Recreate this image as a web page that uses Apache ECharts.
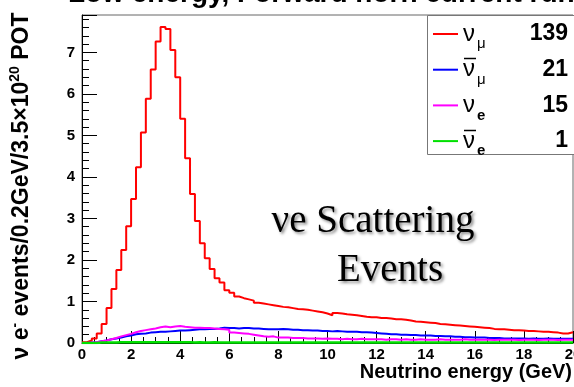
<!DOCTYPE html>
<html>
<head>
<meta charset="utf-8">
<script src="https://cdn.jsdelivr.net/npm/echarts@6/dist/echarts.min.js"></script>
<style>
  html, body { margin: 0; padding: 0; background: #fff; }
  #main { width: 574px; height: 387px; }
</style>
</head>
<body>
<div id="main"></div>
<script>
// histogram binning (GeV)
var energyMin = 0;
var binWidth = 0.2;
var xTicks = [0, 2, 4, 6, 8, 10, 12, 14, 16, 18, 20];

var seriesNames = ['ν_mu', 'ν_mu_bar', 'ν_e', 'ν_e_bar'];
var seriesCounts = [139, 21, 15, 1];

// events per 0.2 GeV bin
var numuVals = [
    0.02, 0.06, 0.11, 0.23, 0.46, 0.84, 1.30, 1.76, 2.24, 2.81,
    3.47, 4.23, 5.07, 5.88, 6.59, 7.26, 7.61, 7.56, 7.06, 6.40,
    5.40, 4.45, 3.59, 2.94, 2.40, 2.04, 1.78, 1.56, 1.46, 1.27,
    1.21, 1.12, 1.08, 1.05, 1.02, 0.97, 0.95, 0.93, 0.91, 0.89,
    0.87, 0.86, 0.84, 0.82, 0.81, 0.80, 0.78, 0.76, 0.74, 0.71,
    0.67, 0.72, 0.71, 0.69, 0.68, 0.67, 0.65, 0.63, 0.62, 0.62,
    0.60, 0.60, 0.59, 0.57, 0.57, 0.56, 0.54, 0.52, 0.51, 0.50,
    0.49, 0.48, 0.46, 0.45, 0.44, 0.43, 0.42, 0.41, 0.40, 0.39,
    0.38, 0.37, 0.36, 0.34, 0.33, 0.33, 0.32, 0.31, 0.31, 0.30,
    0.29, 0.29, 0.28, 0.27, 0.27, 0.26, 0.25, 0.23, 0.23, 0.26
];
var numubarVals = [
    0.00, 0.01, 0.02, 0.04, 0.06, 0.09, 0.11, 0.13, 0.16, 0.18,
    0.21, 0.22, 0.23, 0.25, 0.26, 0.27, 0.27, 0.28, 0.29, 0.30,
    0.30, 0.31, 0.32, 0.33, 0.33, 0.34, 0.34, 0.35, 0.37, 0.36,
    0.36, 0.35, 0.36, 0.36, 0.35, 0.35, 0.34, 0.33, 0.33, 0.33,
    0.34, 0.33, 0.32, 0.32, 0.31, 0.31, 0.30, 0.30, 0.29, 0.29,
    0.28, 0.29, 0.28, 0.27, 0.27, 0.27, 0.26, 0.26, 0.25, 0.24,
    0.23, 0.22, 0.21, 0.21, 0.20, 0.20, 0.19, 0.19, 0.18, 0.18,
    0.18, 0.17, 0.17, 0.16, 0.16, 0.15, 0.15, 0.14, 0.14, 0.13,
    0.13, 0.13, 0.12, 0.12, 0.12, 0.11, 0.11, 0.11, 0.11, 0.11,
    0.10, 0.11, 0.10, 0.10, 0.11, 0.10, 0.10, 0.10, 0.10, 0.10
];
var nueVals = [
    0.00, 0.01, 0.02, 0.04, 0.06, 0.09, 0.12, 0.16, 0.19, 0.22,
    0.26, 0.29, 0.31, 0.33, 0.35, 0.38, 0.40, 0.38, 0.40, 0.41,
    0.39, 0.38, 0.37, 0.37, 0.36, 0.36, 0.35, 0.34, 0.33, 0.32,
    0.25, 0.24, 0.23, 0.22, 0.20, 0.18, 0.16, 0.15, 0.16, 0.13,
    0.13, 0.13, 0.12, 0.12, 0.12, 0.11, 0.11, 0.11, 0.10, 0.11,
    0.10, 0.10, 0.09, 0.10, 0.09, 0.09, 0.10, 0.09, 0.09, 0.09,
    0.09, 0.08, 0.09, 0.09, 0.08, 0.09, 0.08, 0.08, 0.09, 0.08,
    0.08, 0.08, 0.09, 0.08, 0.08, 0.08, 0.08, 0.09, 0.08, 0.08,
    0.08, 0.08, 0.08, 0.07, 0.08, 0.08, 0.08, 0.08, 0.07, 0.08,
    0.08, 0.08, 0.07, 0.08, 0.08, 0.08, 0.07, 0.08, 0.08, 0.08
];
var nuebarVals = [
    0.00, 0.00, 0.00, 0.01, 0.01, 0.01, 0.01, 0.02, 0.02, 0.02,
    0.02, 0.02, 0.02, 0.02, 0.02, 0.02, 0.02, 0.02, 0.02, 0.02,
    0.02, 0.02, 0.01, 0.02, 0.01, 0.01, 0.02, 0.01, 0.01, 0.01,
    0.01, 0.01, 0.01, 0.01, 0.01, 0.01, 0.01, 0.01, 0.01, 0.01,
    0.01, 0.01, 0.01, 0.01, 0.01, 0.01, 0.01, 0.01, 0.01, 0.01,
    0.01, 0.01, 0.01, 0.01, 0.01, 0.01, 0.01, 0.01, 0.01, 0.01,
    0.01, 0.01, 0.01, 0.01, 0.01, 0.01, 0.01, 0.01, 0.01, 0.01,
    0.01, 0.01, 0.01, 0.01, 0.01, 0.01, 0.01, 0.01, 0.01, 0.01,
    0.01, 0.01, 0.01, 0.01, 0.01, 0.01, 0.01, 0.01, 0.01, 0.01,
    0.01, 0.01, 0.01, 0.01, 0.01, 0.01, 0.01, 0.01, 0.01, 0.01
];

var colors = ['#ff0000', '#0000ff', '#ff00ff', '#00e000'];
var font = '"Liberation Sans", Arial, Helvetica, sans-serif';
var serif = '"Liberation Serif", "Times New Roman", serif';

// left bin edges + closing point, drawn as steps
function histData(vals) {
    var d = vals.map(function(v, i) {
        return [energyMin + i * binWidth, v];
    });
    d.push([energyMin + vals.length * binWidth, vals[vals.length - 1]]);
    return d;
}

chart01();

function chart01() {
    var myChart = echarts.init(document.getElementById('main'));
    var allVals = [numuVals, numubarVals, nueVals, nuebarVals];

    // ν with subscript, count right aligned
    var legendText = {};
    legendText[seriesNames[0]] = '{n|ν}{s|μ}{c|' + seriesCounts[0] + '}';
    legendText[seriesNames[1]] = '{n|ν}{s|μ}{c|' + seriesCounts[1] + '}';
    legendText[seriesNames[2]] = '{n|ν}{e|e}{c|' + seriesCounts[2] + '}';
    legendText[seriesNames[3]] = '{n|ν}{e|e}{c|' + seriesCounts[3] + '}';

    var bigText = {
        font: '39px ' + serif,
        fill: '#000',
        align: 'center',
        verticalAlign: 'middle',
        textShadowColor: 'rgba(0,0,0,0.45)',
        textShadowBlur: 3,
        textShadowOffsetX: 2,
        textShadowOffsetY: 2
    };

    var option = {
        animation: false,
        backgroundColor: '#fff',
        grid: {
            left: 82,
            right: 1,
            top: 15,
            bottom: 44,
            outerBoundsMode: 'none',
            containLabel: false,
            show: true,
            borderColor: '#666',
            borderWidth: 1
        },
        xAxis: {
            type: 'value',
            min: xTicks[0],
            max: xTicks[xTicks.length - 1],
            interval: 2,
            axisLine: { lineStyle: { color: '#000', width: 1 } },
            axisTick: { inside: true, length: 12, lineStyle: { color: '#000' } },
            minorTick: { show: true, splitNumber: 4, length: 6, lineStyle: { color: '#000' } },
            splitLine: { show: false },
            axisLabel: {
                margin: 4,
                color: '#000',
                fontFamily: font,
                fontWeight: 'bold',
                fontSize: 15,
                hideOverlap: false
            }
        },
        yAxis: {
            type: 'value',
            min: 0,
            max: 7.9,
            interval: 1,
            axisLine: { show: true, lineStyle: { color: '#000', width: 1 } },
            axisTick: { show: true, inside: true, length: 15, lineStyle: { color: '#000' } },
            minorTick: { show: true, splitNumber: 5, length: 7, lineStyle: { color: '#000' } },
            splitLine: { show: false },
            axisLabel: {
                margin: 7,
                color: '#000',
                fontFamily: font,
                fontWeight: 'bold',
                fontSize: 15,
                showMaxLabel: false
            }
        },
        legend: {
            orient: 'vertical',
            left: 433,
            top: 22,
            padding: 0,
            itemGap: 6.2,
            itemWidth: 25,
            itemHeight: 2,
            icon: 'rect',
            data: seriesNames,
            selectedMode: false,
            formatter: function(name) { return legendText[name]; },
            textStyle: {
                color: '#000',
                fontFamily: font,
                rich: {
                    n: { fontSize: 24, fontFamily: font, lineHeight: 35, width: 14 },
                    s: { fontSize: 15, fontFamily: font, lineHeight: 15, width: 14, verticalAlign: 'bottom' },
                    e: { fontSize: 15, fontFamily: font, fontWeight: 'bold', lineHeight: 15, width: 14, verticalAlign: 'bottom' },
                    c: { fontSize: 23, fontFamily: font, fontWeight: 'bold', lineHeight: 35, width: 77, align: 'right' }
                }
            }
        },
        graphic: [{
            type: 'rect',
            z: 1,
            shape: { x: 427.5, y: 15.5, width: 160, height: 139 },
            style: { fill: '#fff', stroke: '#777', lineWidth: 1 }
        }, {
            // bars over the anti-neutrino symbols in the legend
            type: 'line',
            z: 10,
            shape: { x1: 464, y1: 58.5, x2: 476, y2: 58.5 },
            style: { stroke: '#000', lineWidth: 1.5 }
        }, {
            type: 'line',
            z: 10,
            shape: { x1: 464, y1: 130.5, x2: 476, y2: 130.5 },
            style: { stroke: '#000', lineWidth: 1.5 }
        }, {
            type: 'text',
            x: 68,
            y: -20,
            style: {
                text: 'Low energy, Forward horn current run',
                font: 'bold 28px ' + font,
                fill: '#000',
                align: 'left',
                verticalAlign: 'top'
            }
        }, {
            type: 'text',
            x: 22,
            y: 186,
            rotation: Math.PI / 2,
            style: {
                text: 'ν e{sup|-} events/0.2GeV/3.5×10{sup|20} POT',
                font: 'bold 23px ' + font,
                fill: '#000',
                align: 'center',
                verticalAlign: 'middle',
                rich: {
                    sup: { fontSize: 14, fontWeight: 'bold', fontFamily: font, verticalAlign: 'top', lineHeight: 28 }
                }
            }
        }, {
            type: 'text',
            x: 572,
            y: 372,
            style: {
                text: 'Neutrino energy (GeV)',
                font: 'bold 20px ' + font,
                fill: '#000',
                align: 'right',
                verticalAlign: 'middle'
            }
        }, {
            type: 'text',
            x: 373,
            y: 222,
            z: 20,
            style: Object.assign({ text: 'νe Scattering' }, bigText)
        }, {
            type: 'text',
            x: 390,
            y: 271,
            z: 20,
            style: Object.assign({ text: 'Events' }, bigText)
        }],
        series: seriesNames.map(function(name, k) {
            return {
                name: name,
                type: 'line',
                step: 'end',
                symbol: 'none',
                color: colors[k],
                lineStyle: { color: colors[k], width: k === 3 ? 2.5 : 2 },
                z: 2 + k,
                data: histData(allVals[k])
            };
        })
    };
    myChart.setOption(option);
}
</script>
</body>
</html>
